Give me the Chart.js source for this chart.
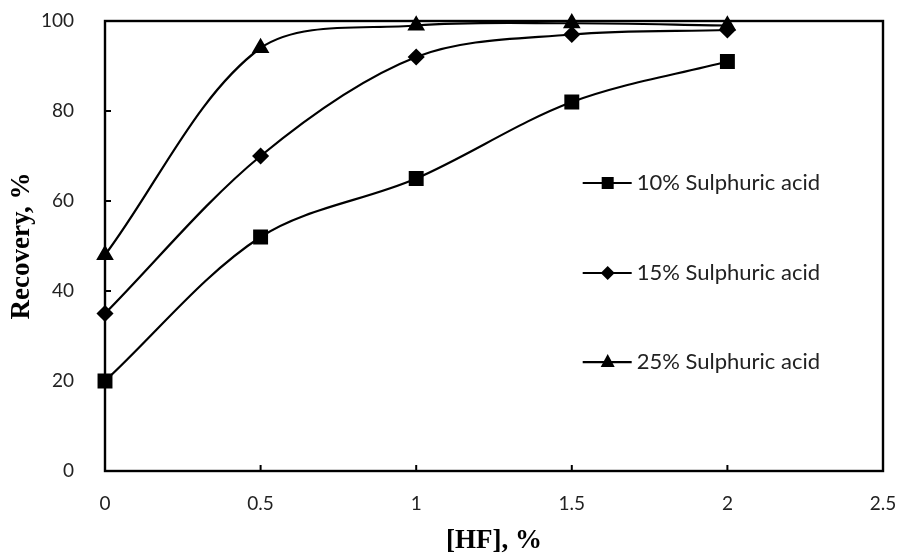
<!DOCTYPE html>
<html>
<head>
<meta charset="utf-8">
<script src="https://cdn.jsdelivr.net/npm/chart.js@4/dist/chart.umd.min.js"></script>
<style>
  html, body { margin: 0; padding: 0; background: #fff; }
  #wrap { width: 904px; height: 557px; }
</style>
</head>
<body>
<div id="wrap"><canvas id="chart" width="904" height="557"></canvas></div>
<script>
// HF concentration, %
const hf = [0, 0.5, 1, 1.5, 2];
// recovery, % for each acid strength
const acid10 = [20, 52, 65, 82, 91];
const acid15 = [35, 70, 92, 97, 98];
const acid25 = [48, 94, 99, 99.5, 99];
const seriesNames = ['10% Sulphuric acid', '15% Sulphuric acid', '25% Sulphuric acid'];
const xTicks = [0, 0.5, 1, 1.5, 2, 2.5];
const yTicks = [0, 20, 40, 60, 80, 100];

const tickFont = { family: 'Lato, "Open Sans", sans-serif', size: 19 };
const titleFont = { family: '"Liberation Serif", "Times New Roman", serif', size: 27, weight: 'bold' };

function toPoints(ys) {
    return hf.map((x, i) => ({ x: x, y: ys[i] }));
}

function makeSet(label, ys, style, r) {
    return {
        label: label,
        data: toPoints(ys),
        borderColor: '#000',
        backgroundColor: '#000',
        borderWidth: 2.2,
        pointStyle: style,
        pointRadius: r,
        pointHoverRadius: r,
        tension: 0.33,
        clip: false
    };
}

// box round the plot + small inward ticks
const framePlugin = {
    id: 'frame',
    beforeDatasetsDraw(chart) {
        const { ctx, chartArea: a, scales } = chart;
        ctx.save();
        ctx.strokeStyle = '#000';
        ctx.lineWidth = 2.4;
        ctx.strokeRect(a.left, a.top, a.right - a.left, a.bottom - a.top);
        ctx.lineWidth = 2;
        xTicks.forEach(v => {
            const px = scales.x.getPixelForValue(v);
            ctx.beginPath(); ctx.moveTo(px, a.bottom); ctx.lineTo(px, a.bottom - 6); ctx.stroke();
        });
        yTicks.forEach(v => {
            const py = scales.y.getPixelForValue(v);
            ctx.beginPath(); ctx.moveTo(a.left, py); ctx.lineTo(a.left + 6, py); ctx.stroke();
        });
        ctx.restore();
    }
};

// legend stacked inside the plot, right half
const insideLegend = {
    id: 'insideLegend',
    afterDraw(chart) {
        const { ctx, chartArea: a } = chart;
        const w = a.right - a.left, h = a.bottom - a.top;
        const x0 = a.left + 0.614 * w;
        const rows = [0.36, 0.56, 0.758];
        ctx.save();
        ctx.fillStyle = '#000';
        ctx.strokeStyle = '#000';
        ctx.lineWidth = 2.2;
        ctx.textBaseline = 'middle';
        chart.data.datasets.forEach((ds, i) => {
            const y = a.top + rows[i] * h;
            ctx.beginPath(); ctx.moveTo(x0, y); ctx.lineTo(x0 + 49, y); ctx.stroke();
            const cx = x0 + 25;
            ctx.beginPath();
            if (ds.pointStyle === 'rect') {
                ctx.fillRect(cx - 6, y - 6, 12, 12);
            } else if (ds.pointStyle === 'rectRot') {
                ctx.moveTo(cx, y - 7); ctx.lineTo(cx + 7, y); ctx.lineTo(cx, y + 7); ctx.lineTo(cx - 7, y);
                ctx.closePath(); ctx.fill();
            } else {
                ctx.moveTo(cx, y - 8); ctx.lineTo(cx + 7, y + 5); ctx.lineTo(cx - 7, y + 5);
                ctx.closePath(); ctx.fill();
            }
            ctx.fillStyle = '#222';
            ctx.font = '22px Lato, "Open Sans", sans-serif';
            ctx.fillText(ds.label, x0 + 54, y);
            ctx.fillStyle = '#000';
        });
        ctx.restore();
    }
};

new Chart(document.getElementById('chart').getContext('2d'), {
    type: 'line',
    data: {
        datasets: [
            makeSet(seriesNames[0], acid10, 'rect', 9),
            makeSet(seriesNames[1], acid15, 'rectRot', 7),
            makeSet(seriesNames[2], acid25, 'triangle', 8)
        ]
    },
    options: {
        responsive: false,
        animation: false,
        devicePixelRatio: 1,
        layout: { autoPadding: false, padding: { top: 21, right: 21, left: 0, bottom: 0 } },
        plugins: {
            legend: { display: false },
            tooltip: { enabled: false }
        },
        scales: {
            x: {
                type: 'linear',
                min: 0, max: 2.5,
                afterBuildTicks: s => { s.ticks = xTicks.map(v => ({ value: v })); },
                afterFit: s => { s.height = 86; s.paddingRight = 0; s.paddingLeft = 0; },
                grid: { display: false },
                border: { display: false },
                ticks: { color: '#222', font: tickFont, padding: 13, maxRotation: 0, callback: v => String(v) },
                title: { display: true, text: '[HF], %', color: '#000', font: titleFont, padding: 0 }
            },
            y: {
                min: 0, max: 100,
                afterBuildTicks: s => { s.ticks = yTicks.map(v => ({ value: v })); },
                afterFit: s => { s.width = 105; s.paddingTop = 0; s.paddingBottom = 0; },
                grid: { display: false },
                border: { display: false },
                ticks: { color: '#222', font: tickFont, padding: 23, callback: v => String(v) },
                title: { display: true, text: 'Recovery, %', color: '#000', font: titleFont, padding: { top: 6, bottom: 0 } }
            }
        }
    },
    plugins: [framePlugin, insideLegend]
});
</script>
</body>
</html>
